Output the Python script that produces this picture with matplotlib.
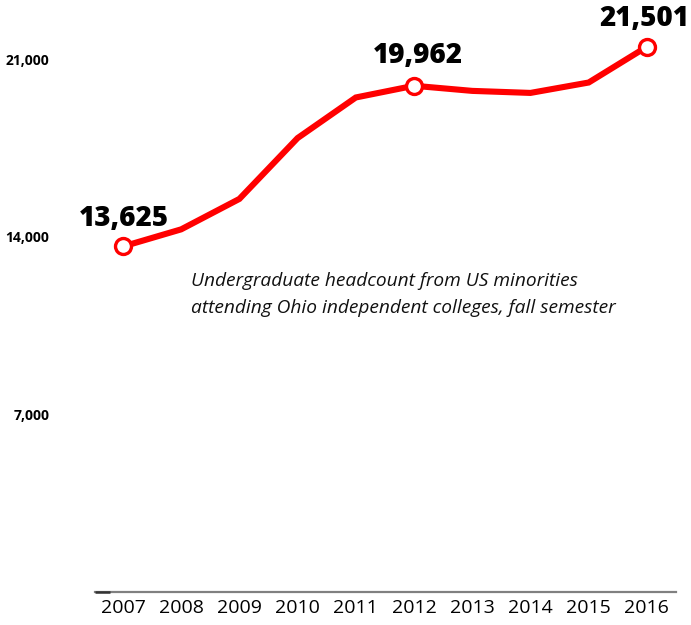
import matplotlib
matplotlib.use("Agg")
import matplotlib.pyplot as plt

plt.rcParams['font.family'] = ['Open Sans', 'DejaVu Sans']

years = [2007, 2008, 2009, 2010, 2011, 2012, 2013, 2014, 2015, 2016]
values = [13625, 14300, 15500, 17900, 19500, 19962, 19760, 19680, 20090, 21501]
highlight_years = [2007, 2012, 2016]
ytick_values = [7000, 14000, 21000]
ytick_labels = ["7,000", "14,000", "21,000"]
annotation = "Undergraduate headcount from US minorities\nattending Ohio independent colleges, fall semester"

W, H = 691, 625
fig = plt.figure(figsize=(W / 100, H / 100), dpi=100)
ax = fig.add_axes([95 / W, (H - 592) / H, 581 / W, (592 - 21.4) / H])

ax.plot(years, values, color="#ff0000", lw=4.4, solid_capstyle="butt",
        solid_joinstyle="miter", zorder=3)
hv = [values[years.index(y)] for y in highlight_years]
ax.plot(highlight_years, hv, ls="none", marker="o", ms=11.5, mfc="white",
        mec="#ff0000", mew=2.4, zorder=4)

label_offsets = {2007: (1, 10), 2012: (3, 11), 2016: (-2, 10)}
for y, v in zip(highlight_years, hv):
    dx, dy = label_offsets[y]
    ax.annotate(f"{v:,}", (y, v), xytext=(dx, dy), textcoords="offset points",
                ha="center", va="bottom", fontsize=20, fontweight="heavy",
                color="black", zorder=5)

ax.set_xlim(2006.52, 2016.5)
ax.set_ylim(0, 22500)
ax.set_xticks(years)
ax.set_xticklabels([str(y) for y in years], fontsize=14)
ax.set_yticks(ytick_values)
ax.set_yticklabels(ytick_labels, fontsize=10, fontweight="bold")
ax.tick_params(axis="x", length=0, pad=5)
ax.tick_params(axis="y", length=0, pad=33)

for s in ["top", "right", "left"]:
    ax.spines[s].set_visible(False)
ax.spines["bottom"].set_color("#808080")
ax.spines["bottom"].set_linewidth(1.6)
ax.plot([2006.52, 2006.78], [0, 0], color="#333333", lw=1.8, clip_on=False,
        solid_capstyle="butt", zorder=5)

ax.text(2008.17, 12600, annotation, fontsize=13.8, fontstyle="italic",
        ha="left", va="top", linespacing=1.6, color="#111111")

fig.savefig("out.png", dpi=100)
